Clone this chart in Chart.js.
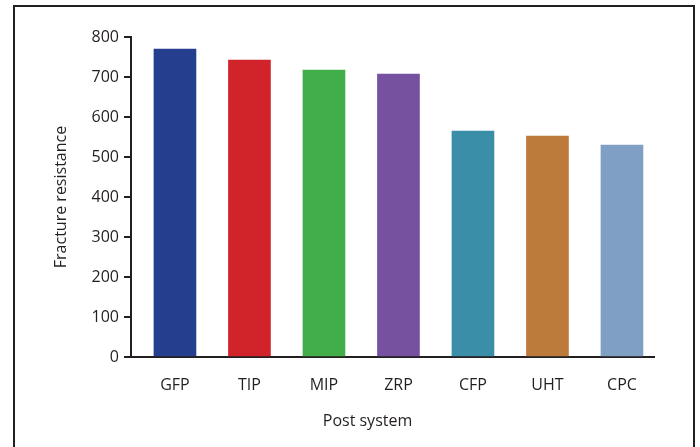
<!DOCTYPE html>
<html>
<head>
<meta charset="utf-8">
<script src="https://cdn.jsdelivr.net/npm/chart.js@4"></script>
<style>
  html, body { margin: 0; padding: 0; background: #fff; }
  #wrap { position: relative; width: 700px; height: 447px; overflow: hidden; }
  #frame { position: absolute; left: 13px; top: 5px; width: 678px; height: 460px;
    border: 2px solid #231f20; border-bottom: none; }
  #xtitle { position: absolute; left: 0; width: 735px; top: 409px; text-align: center;
    font-family: "Open Sans", sans-serif; font-size: 16px; color: #231f20; }
  canvas { position: absolute; left: 0; top: 0; }
</style>
</head>
<body>
<div id="wrap">
  <div id="frame"></div>
  <canvas id="chart" width="700" height="447"></canvas>
  <div id="xtitle">Post system</div>
</div>
<script>
var categories = ['GFP', 'TIP', 'MIP', 'ZRP', 'CFP', 'UHT', 'CPC'];
var fractureResistance = [770, 742, 717, 707, 565, 552, 530];
var barColors = ['#253f8e', '#d1232a', '#41ae4a', '#7551a0', '#3a8ea8', '#bd7b3b', '#7f9fc4'];
var yTicks = [0, 100, 200, 300, 400, 500, 600, 700, 800];

var ink = '#231f20';
var font = 'Open Sans';

var points = categories.map(function (c, i) {
  return { x: i, y: fractureResistance[i] };
});

new Chart(document.getElementById('chart'), {
  type: 'bar',
  data: {
    datasets: [{
      data: points,
      backgroundColor: barColors,
      borderWidth: 0,
      barThickness: 42
    }]
  },
  options: {
    responsive: false,
    animation: false,
    layout: { padding: { left: 0, top: 37, right: 46, bottom: 0 } },
    plugins: { legend: { display: false }, tooltip: { enabled: false } },
    scales: {
      x: {
        type: 'linear',
        offset: false,
        min: -0.59,
        max: 6.43,
        grid: { display: false, drawTicks: false, offset: false },
        border: { display: true, color: ink, width: 2 },
        afterFit: function (s) { s.height = 90; },
        afterBuildTicks: function (s) {
          s.ticks = categories.map(function (c, i) { return { value: i }; });
        },
        ticks: {
          autoSkip: false,
          maxRotation: 0,
          padding: 19,
          color: ink,
          font: { family: font, size: 16 },
          callback: function (v) { return categories[v]; }
        }
      },
      y: {
        min: 0,
        max: 800,
        afterFit: function (s) { s.width = 131; },
        afterBuildTicks: function (s) {
          s.ticks = yTicks.map(function (v) { return { value: v }; });
        },
        grid: { drawOnChartArea: false, drawTicks: true, tickLength: 7, color: ink, lineWidth: 2 },
        border: { display: true, color: ink, width: 2 },
        ticks: {
          padding: 5,
          color: ink,
          font: { family: font, size: 16 }
        },
        title: {
          display: true,
          text: 'Fracture resistance',
          color: ink,
          font: { family: font, size: 16 },
          padding: { top: 52, bottom: 0 }
        }
      }
    }
  }
});
</script>
</body>
</html>
